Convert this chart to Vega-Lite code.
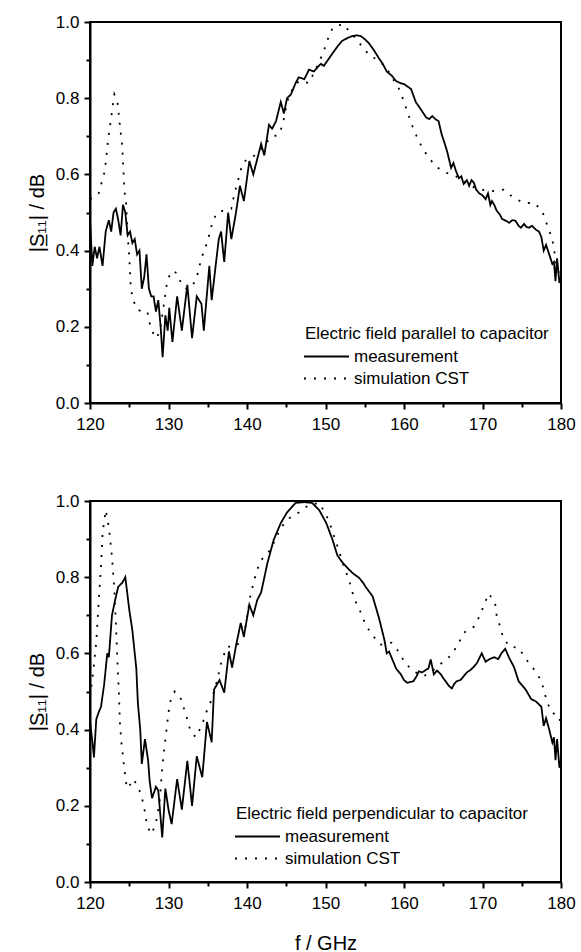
{
  "$schema": "https://vega.github.io/schema/vega-lite/v6.json",
  "padding": {"left": 26, "top": 12, "right": 0, "bottom": 0},
  "config": {
    "font": "Liberation Sans",
    "view": {"stroke": "black", "strokeWidth": 2},
    "axis": {"domainColor": "black", "domainWidth": 2, "tickColor": "black", "tickWidth": 2, "labelColor": "black", "labelFontSize": 17, "labelFont": "Liberation Sans", "titleFont": "Liberation Sans", "titleFontSize": 20, "titleFontWeight": "normal", "titleColor": "black", "grid": false},
    "legend": {"titleFont": "Liberation Sans", "titleFontSize": 17, "titleFontWeight": "normal", "titleColor": "black", "titleLimit": 500, "labelLimit": 300, "labelFont": "Liberation Sans", "labelFontSize": 17, "labelColor": "black", "symbolType": "M-3,0H3", "symbolSize": 225, "symbolStrokeColor": "black", "symbolStrokeWidth": 2, "rowPadding": 4, "titlePadding": 5, "labelOffset": 19, "symbolOffset": 13},
    "concat": {"spacing": 58}
  },
  "datasets": {
    "top": [
      {"f":120.0,"v":0.48,"s":"measurement"},{"f":120.3,"v":0.36,"s":"measurement"},{"f":120.6,"v":0.41,"s":"measurement"},{"f":120.9,"v":0.38,"s":"measurement"},{"f":121.2,"v":0.41,"s":"measurement"},{"f":121.6,"v":0.36,"s":"measurement"},{"f":122.0,"v":0.45,"s":"measurement"},{"f":122.4,"v":0.48,"s":"measurement"},{"f":122.7,"v":0.45,"s":"measurement"},{"f":123.0,"v":0.50,"s":"measurement"},{"f":123.3,"v":0.51,"s":"measurement"},{"f":123.6,"v":0.48,"s":"measurement"},{"f":123.9,"v":0.44,"s":"measurement"},{"f":124.2,"v":0.52,"s":"measurement"},{"f":124.5,"v":0.50,"s":"measurement"},{"f":124.8,"v":0.44,"s":"measurement"},{"f":125.1,"v":0.45,"s":"measurement"},{"f":125.4,"v":0.42,"s":"measurement"},{"f":125.7,"v":0.43,"s":"measurement"},{"f":126.0,"v":0.39,"s":"measurement"},{"f":126.3,"v":0.40,"s":"measurement"},{"f":126.6,"v":0.30,"s":"measurement"},{"f":126.9,"v":0.33,"s":"measurement"},{"f":127.2,"v":0.39,"s":"measurement"},{"f":127.5,"v":0.30,"s":"measurement"},{"f":127.8,"v":0.28,"s":"measurement"},{"f":128.1,"v":0.28,"s":"measurement"},{"f":128.4,"v":0.24,"s":"measurement"},{"f":128.7,"v":0.27,"s":"measurement"},{"f":129.0,"v":0.20,"s":"measurement"},{"f":129.25,"v":0.12,"s":"measurement"},{"f":129.6,"v":0.23,"s":"measurement"},{"f":129.9,"v":0.19,"s":"measurement"},{"f":130.1,"v":0.25,"s":"measurement"},{"f":130.5,"v":0.16,"s":"measurement"},{"f":131.1,"v":0.28,"s":"measurement"},{"f":131.7,"v":0.19,"s":"measurement"},{"f":132.4,"v":0.31,"s":"measurement"},{"f":133.0,"v":0.17,"s":"measurement"},{"f":133.6,"v":0.28,"s":"measurement"},{"f":134.2,"v":0.26,"s":"measurement"},{"f":134.5,"v":0.19,"s":"measurement"},{"f":135.2,"v":0.36,"s":"measurement"},{"f":135.5,"v":0.27,"s":"measurement"},{"f":136.4,"v":0.43,"s":"measurement"},{"f":136.7,"v":0.45,"s":"measurement"},{"f":137.1,"v":0.37,"s":"measurement"},{"f":137.6,"v":0.50,"s":"measurement"},{"f":138.0,"v":0.43,"s":"measurement"},{"f":138.6,"v":0.50,"s":"measurement"},{"f":139.1,"v":0.57,"s":"measurement"},{"f":139.6,"v":0.53,"s":"measurement"},{"f":140.3,"v":0.635,"s":"measurement"},{"f":140.8,"v":0.60,"s":"measurement"},{"f":141.3,"v":0.64,"s":"measurement"},{"f":141.8,"v":0.68,"s":"measurement"},{"f":142.2,"v":0.65,"s":"measurement"},{"f":142.8,"v":0.73,"s":"measurement"},{"f":143.2,"v":0.72,"s":"measurement"},{"f":143.7,"v":0.74,"s":"measurement"},{"f":144.3,"v":0.79,"s":"measurement"},{"f":144.7,"v":0.76,"s":"measurement"},{"f":145.1,"v":0.80,"s":"measurement"},{"f":145.6,"v":0.81,"s":"measurement"},{"f":146.2,"v":0.84,"s":"measurement"},{"f":146.6,"v":0.855,"s":"measurement"},{"f":147.3,"v":0.85,"s":"measurement"},{"f":147.9,"v":0.875,"s":"measurement"},{"f":148.5,"v":0.87,"s":"measurement"},{"f":149.4,"v":0.89,"s":"measurement"},{"f":149.8,"v":0.885,"s":"measurement"},{"f":150.3,"v":0.90,"s":"measurement"},{"f":150.8,"v":0.915,"s":"measurement"},{"f":151.5,"v":0.935,"s":"measurement"},{"f":152.1,"v":0.95,"s":"measurement"},{"f":152.8,"v":0.958,"s":"measurement"},{"f":153.4,"v":0.963,"s":"measurement"},{"f":154.0,"v":0.965,"s":"measurement"},{"f":154.5,"v":0.963,"s":"measurement"},{"f":155.0,"v":0.955,"s":"measurement"},{"f":155.5,"v":0.945,"s":"measurement"},{"f":156.2,"v":0.925,"s":"measurement"},{"f":156.8,"v":0.905,"s":"measurement"},{"f":157.3,"v":0.89,"s":"measurement"},{"f":157.8,"v":0.87,"s":"measurement"},{"f":158.4,"v":0.86,"s":"measurement"},{"f":159.0,"v":0.845,"s":"measurement"},{"f":159.5,"v":0.84,"s":"measurement"},{"f":160.0,"v":0.837,"s":"measurement"},{"f":160.5,"v":0.83,"s":"measurement"},{"f":160.9,"v":0.824,"s":"measurement"},{"f":161.5,"v":0.79,"s":"measurement"},{"f":162.0,"v":0.775,"s":"measurement"},{"f":162.3,"v":0.766,"s":"measurement"},{"f":162.8,"v":0.75,"s":"measurement"},{"f":163.2,"v":0.745,"s":"measurement"},{"f":163.6,"v":0.753,"s":"measurement"},{"f":164.0,"v":0.745,"s":"measurement"},{"f":164.4,"v":0.74,"s":"measurement"},{"f":164.8,"v":0.705,"s":"measurement"},{"f":165.2,"v":0.68,"s":"measurement"},{"f":165.5,"v":0.66,"s":"measurement"},{"f":166.0,"v":0.617,"s":"measurement"},{"f":166.3,"v":0.63,"s":"measurement"},{"f":166.6,"v":0.61,"s":"measurement"},{"f":167.0,"v":0.59,"s":"measurement"},{"f":167.3,"v":0.595,"s":"measurement"},{"f":167.6,"v":0.575,"s":"measurement"},{"f":168.0,"v":0.585,"s":"measurement"},{"f":168.3,"v":0.57,"s":"measurement"},{"f":168.6,"v":0.585,"s":"measurement"},{"f":168.9,"v":0.578,"s":"measurement"},{"f":169.2,"v":0.56,"s":"measurement"},{"f":169.6,"v":0.55,"s":"measurement"},{"f":170.0,"v":0.545,"s":"measurement"},{"f":170.4,"v":0.535,"s":"measurement"},{"f":170.7,"v":0.55,"s":"measurement"},{"f":171.0,"v":0.52,"s":"measurement"},{"f":171.2,"v":0.53,"s":"measurement"},{"f":171.5,"v":0.52,"s":"measurement"},{"f":171.8,"v":0.505,"s":"measurement"},{"f":172.2,"v":0.495,"s":"measurement"},{"f":172.5,"v":0.483,"s":"measurement"},{"f":173.0,"v":0.478,"s":"measurement"},{"f":173.4,"v":0.473,"s":"measurement"},{"f":173.8,"v":0.48,"s":"measurement"},{"f":174.2,"v":0.478,"s":"measurement"},{"f":174.6,"v":0.465,"s":"measurement"},{"f":174.9,"v":0.46,"s":"measurement"},{"f":175.3,"v":0.47,"s":"measurement"},{"f":175.6,"v":0.462,"s":"measurement"},{"f":175.9,"v":0.46,"s":"measurement"},{"f":176.3,"v":0.465,"s":"measurement"},{"f":176.8,"v":0.455,"s":"measurement"},{"f":177.2,"v":0.45,"s":"measurement"},{"f":177.5,"v":0.435,"s":"measurement"},{"f":177.8,"v":0.40,"s":"measurement"},{"f":178.1,"v":0.415,"s":"measurement"},{"f":178.5,"v":0.39,"s":"measurement"},{"f":178.9,"v":0.365,"s":"measurement"},{"f":179.1,"v":0.37,"s":"measurement"},{"f":179.3,"v":0.32,"s":"measurement"},{"f":179.5,"v":0.38,"s":"measurement"},{"f":179.8,"v":0.315,"s":"measurement"},{"f":180.0,"v":0.33,"s":"measurement"},
      {"f":120.0,"v":0.535,"s":"simulation CST"},{"f":120.5,"v":0.54,"s":"simulation CST"},{"f":121.1,"v":0.55,"s":"simulation CST"},{"f":121.5,"v":0.58,"s":"simulation CST"},{"f":121.9,"v":0.61,"s":"simulation CST"},{"f":122.3,"v":0.69,"s":"simulation CST"},{"f":122.7,"v":0.75,"s":"simulation CST"},{"f":123.1,"v":0.81,"s":"simulation CST"},{"f":123.5,"v":0.79,"s":"simulation CST"},{"f":123.8,"v":0.73,"s":"simulation CST"},{"f":124.1,"v":0.675,"s":"simulation CST"},{"f":124.4,"v":0.555,"s":"simulation CST"},{"f":124.6,"v":0.525,"s":"simulation CST"},{"f":124.8,"v":0.44,"s":"simulation CST"},{"f":125.0,"v":0.385,"s":"simulation CST"},{"f":125.2,"v":0.30,"s":"simulation CST"},{"f":125.5,"v":0.27,"s":"simulation CST"},{"f":126.0,"v":0.245,"s":"simulation CST"},{"f":126.7,"v":0.24,"s":"simulation CST"},{"f":127.3,"v":0.24,"s":"simulation CST"},{"f":127.6,"v":0.21,"s":"simulation CST"},{"f":128.0,"v":0.185,"s":"simulation CST"},{"f":128.5,"v":0.17,"s":"simulation CST"},{"f":128.9,"v":0.19,"s":"simulation CST"},{"f":129.2,"v":0.23,"s":"simulation CST"},{"f":129.6,"v":0.285,"s":"simulation CST"},{"f":129.8,"v":0.315,"s":"simulation CST"},{"f":130.3,"v":0.345,"s":"simulation CST"},{"f":130.7,"v":0.345,"s":"simulation CST"},{"f":131.1,"v":0.34,"s":"simulation CST"},{"f":131.7,"v":0.31,"s":"simulation CST"},{"f":132.3,"v":0.30,"s":"simulation CST"},{"f":133.0,"v":0.305,"s":"simulation CST"},{"f":133.6,"v":0.33,"s":"simulation CST"},{"f":134.2,"v":0.38,"s":"simulation CST"},{"f":134.9,"v":0.42,"s":"simulation CST"},{"f":135.3,"v":0.45,"s":"simulation CST"},{"f":135.6,"v":0.475,"s":"simulation CST"},{"f":136.2,"v":0.50,"s":"simulation CST"},{"f":137.0,"v":0.505,"s":"simulation CST"},{"f":138.0,"v":0.51,"s":"simulation CST"},{"f":138.3,"v":0.54,"s":"simulation CST"},{"f":138.6,"v":0.565,"s":"simulation CST"},{"f":139.0,"v":0.595,"s":"simulation CST"},{"f":139.4,"v":0.627,"s":"simulation CST"},{"f":140.0,"v":0.64,"s":"simulation CST"},{"f":141.0,"v":0.65,"s":"simulation CST"},{"f":142.0,"v":0.67,"s":"simulation CST"},{"f":143.0,"v":0.697,"s":"simulation CST"},{"f":144.1,"v":0.705,"s":"simulation CST"},{"f":144.6,"v":0.735,"s":"simulation CST"},{"f":145.1,"v":0.79,"s":"simulation CST"},{"f":145.7,"v":0.82,"s":"simulation CST"},{"f":146.6,"v":0.845,"s":"simulation CST"},{"f":147.9,"v":0.84,"s":"simulation CST"},{"f":148.6,"v":0.87,"s":"simulation CST"},{"f":149.3,"v":0.90,"s":"simulation CST"},{"f":149.8,"v":0.925,"s":"simulation CST"},{"f":150.3,"v":0.955,"s":"simulation CST"},{"f":150.9,"v":0.985,"s":"simulation CST"},{"f":152.2,"v":0.995,"s":"simulation CST"},{"f":153.4,"v":0.968,"s":"simulation CST"},{"f":154.5,"v":0.94,"s":"simulation CST"},{"f":155.7,"v":0.91,"s":"simulation CST"},{"f":156.8,"v":0.90,"s":"simulation CST"},{"f":157.8,"v":0.878,"s":"simulation CST"},{"f":158.6,"v":0.85,"s":"simulation CST"},{"f":159.5,"v":0.82,"s":"simulation CST"},{"f":160.0,"v":0.79,"s":"simulation CST"},{"f":160.5,"v":0.76,"s":"simulation CST"},{"f":161.0,"v":0.73,"s":"simulation CST"},{"f":161.5,"v":0.705,"s":"simulation CST"},{"f":162.2,"v":0.675,"s":"simulation CST"},{"f":163.0,"v":0.648,"s":"simulation CST"},{"f":164.1,"v":0.62,"s":"simulation CST"},{"f":165.3,"v":0.605,"s":"simulation CST"},{"f":166.6,"v":0.595,"s":"simulation CST"},{"f":167.9,"v":0.578,"s":"simulation CST"},{"f":169.0,"v":0.565,"s":"simulation CST"},{"f":170.3,"v":0.558,"s":"simulation CST"},{"f":171.5,"v":0.556,"s":"simulation CST"},{"f":172.7,"v":0.56,"s":"simulation CST"},{"f":174.0,"v":0.538,"s":"simulation CST"},{"f":175.3,"v":0.525,"s":"simulation CST"},{"f":176.6,"v":0.525,"s":"simulation CST"},{"f":177.6,"v":0.504,"s":"simulation CST"},{"f":178.1,"v":0.475,"s":"simulation CST"},{"f":178.6,"v":0.447,"s":"simulation CST"},{"f":179.0,"v":0.418,"s":"simulation CST"},{"f":179.4,"v":0.365,"s":"simulation CST"},{"f":180.0,"v":0.32,"s":"simulation CST"}
    ],
    "bot": [
      {"f":120.0,"v":0.42,"s":"measurement"},{"f":120.3,"v":0.37,"s":"measurement"},{"f":120.5,"v":0.327,"s":"measurement"},{"f":120.8,"v":0.427,"s":"measurement"},{"f":121.1,"v":0.445,"s":"measurement"},{"f":121.4,"v":0.46,"s":"measurement"},{"f":121.8,"v":0.518,"s":"measurement"},{"f":122.2,"v":0.60,"s":"measurement"},{"f":122.4,"v":0.59,"s":"measurement"},{"f":122.8,"v":0.70,"s":"measurement"},{"f":123.2,"v":0.74,"s":"measurement"},{"f":123.6,"v":0.775,"s":"measurement"},{"f":124.1,"v":0.785,"s":"measurement"},{"f":124.5,"v":0.80,"s":"measurement"},{"f":125.0,"v":0.715,"s":"measurement"},{"f":125.4,"v":0.66,"s":"measurement"},{"f":125.9,"v":0.56,"s":"measurement"},{"f":126.1,"v":0.47,"s":"measurement"},{"f":126.4,"v":0.40,"s":"measurement"},{"f":126.6,"v":0.31,"s":"measurement"},{"f":127.0,"v":0.375,"s":"measurement"},{"f":127.4,"v":0.32,"s":"measurement"},{"f":127.6,"v":0.265,"s":"measurement"},{"f":127.9,"v":0.22,"s":"measurement"},{"f":128.4,"v":0.25,"s":"measurement"},{"f":128.7,"v":0.24,"s":"measurement"},{"f":129.2,"v":0.117,"s":"measurement"},{"f":129.6,"v":0.245,"s":"measurement"},{"f":130.0,"v":0.19,"s":"measurement"},{"f":130.4,"v":0.152,"s":"measurement"},{"f":131.1,"v":0.27,"s":"measurement"},{"f":131.7,"v":0.19,"s":"measurement"},{"f":132.4,"v":0.318,"s":"measurement"},{"f":133.0,"v":0.20,"s":"measurement"},{"f":133.6,"v":0.33,"s":"measurement"},{"f":134.3,"v":0.275,"s":"measurement"},{"f":134.9,"v":0.42,"s":"measurement"},{"f":135.5,"v":0.367,"s":"measurement"},{"f":135.8,"v":0.505,"s":"measurement"},{"f":136.5,"v":0.53,"s":"measurement"},{"f":137.1,"v":0.497,"s":"measurement"},{"f":137.7,"v":0.605,"s":"measurement"},{"f":138.1,"v":0.563,"s":"measurement"},{"f":138.6,"v":0.62,"s":"measurement"},{"f":139.2,"v":0.68,"s":"measurement"},{"f":139.6,"v":0.644,"s":"measurement"},{"f":140.3,"v":0.728,"s":"measurement"},{"f":140.8,"v":0.70,"s":"measurement"},{"f":141.3,"v":0.74,"s":"measurement"},{"f":141.8,"v":0.76,"s":"measurement"},{"f":142.6,"v":0.837,"s":"measurement"},{"f":143.4,"v":0.898,"s":"measurement"},{"f":144.3,"v":0.942,"s":"measurement"},{"f":145.1,"v":0.97,"s":"measurement"},{"f":146.2,"v":0.995,"s":"measurement"},{"f":147.3,"v":0.997,"s":"measurement"},{"f":148.3,"v":0.995,"s":"measurement"},{"f":149.2,"v":0.976,"s":"measurement"},{"f":150.1,"v":0.942,"s":"measurement"},{"f":150.9,"v":0.898,"s":"measurement"},{"f":151.5,"v":0.858,"s":"measurement"},{"f":152.1,"v":0.84,"s":"measurement"},{"f":153.0,"v":0.82,"s":"measurement"},{"f":153.5,"v":0.81,"s":"measurement"},{"f":154.3,"v":0.798,"s":"measurement"},{"f":154.8,"v":0.785,"s":"measurement"},{"f":155.2,"v":0.772,"s":"measurement"},{"f":156.0,"v":0.75,"s":"measurement"},{"f":156.8,"v":0.694,"s":"measurement"},{"f":157.5,"v":0.636,"s":"measurement"},{"f":157.8,"v":0.60,"s":"measurement"},{"f":158.1,"v":0.605,"s":"measurement"},{"f":158.5,"v":0.585,"s":"measurement"},{"f":159.0,"v":0.56,"s":"measurement"},{"f":159.6,"v":0.545,"s":"measurement"},{"f":160.0,"v":0.53,"s":"measurement"},{"f":160.4,"v":0.523,"s":"measurement"},{"f":160.8,"v":0.525,"s":"measurement"},{"f":161.2,"v":0.527,"s":"measurement"},{"f":161.6,"v":0.54,"s":"measurement"},{"f":161.9,"v":0.553,"s":"measurement"},{"f":162.3,"v":0.55,"s":"measurement"},{"f":162.8,"v":0.557,"s":"measurement"},{"f":163.1,"v":0.56,"s":"measurement"},{"f":163.4,"v":0.584,"s":"measurement"},{"f":163.8,"v":0.545,"s":"measurement"},{"f":164.2,"v":0.555,"s":"measurement"},{"f":164.7,"v":0.545,"s":"measurement"},{"f":165.0,"v":0.535,"s":"measurement"},{"f":165.3,"v":0.527,"s":"measurement"},{"f":165.7,"v":0.515,"s":"measurement"},{"f":166.1,"v":0.508,"s":"measurement"},{"f":166.4,"v":0.52,"s":"measurement"},{"f":166.7,"v":0.527,"s":"measurement"},{"f":167.2,"v":0.53,"s":"measurement"},{"f":167.6,"v":0.54,"s":"measurement"},{"f":168.0,"v":0.55,"s":"measurement"},{"f":168.5,"v":0.557,"s":"measurement"},{"f":168.9,"v":0.565,"s":"measurement"},{"f":169.3,"v":0.575,"s":"measurement"},{"f":169.9,"v":0.60,"s":"measurement"},{"f":170.4,"v":0.578,"s":"measurement"},{"f":170.9,"v":0.585,"s":"measurement"},{"f":171.5,"v":0.59,"s":"measurement"},{"f":172.0,"v":0.585,"s":"measurement"},{"f":172.4,"v":0.60,"s":"measurement"},{"f":172.9,"v":0.612,"s":"measurement"},{"f":173.4,"v":0.588,"s":"measurement"},{"f":174.0,"v":0.565,"s":"measurement"},{"f":174.6,"v":0.527,"s":"measurement"},{"f":175.1,"v":0.515,"s":"measurement"},{"f":175.5,"v":0.505,"s":"measurement"},{"f":176.2,"v":0.48,"s":"measurement"},{"f":176.8,"v":0.474,"s":"measurement"},{"f":177.5,"v":0.46,"s":"measurement"},{"f":177.8,"v":0.41,"s":"measurement"},{"f":178.1,"v":0.43,"s":"measurement"},{"f":178.5,"v":0.40,"s":"measurement"},{"f":178.9,"v":0.366,"s":"measurement"},{"f":179.1,"v":0.38,"s":"measurement"},{"f":179.3,"v":0.32,"s":"measurement"},{"f":179.5,"v":0.375,"s":"measurement"},{"f":179.8,"v":0.30,"s":"measurement"},{"f":180.0,"v":0.32,"s":"measurement"},
      {"f":120.0,"v":0.487,"s":"simulation CST"},{"f":120.4,"v":0.55,"s":"simulation CST"},{"f":120.8,"v":0.63,"s":"simulation CST"},{"f":121.1,"v":0.733,"s":"simulation CST"},{"f":121.4,"v":0.827,"s":"simulation CST"},{"f":121.6,"v":0.916,"s":"simulation CST"},{"f":122.0,"v":0.976,"s":"simulation CST"},{"f":122.4,"v":0.932,"s":"simulation CST"},{"f":122.8,"v":0.853,"s":"simulation CST"},{"f":123.1,"v":0.767,"s":"simulation CST"},{"f":123.3,"v":0.68,"s":"simulation CST"},{"f":123.5,"v":0.576,"s":"simulation CST"},{"f":123.7,"v":0.487,"s":"simulation CST"},{"f":123.8,"v":0.42,"s":"simulation CST"},{"f":124.0,"v":0.367,"s":"simulation CST"},{"f":124.2,"v":0.33,"s":"simulation CST"},{"f":124.5,"v":0.275,"s":"simulation CST"},{"f":124.7,"v":0.246,"s":"simulation CST"},{"f":125.1,"v":0.255,"s":"simulation CST"},{"f":125.5,"v":0.27,"s":"simulation CST"},{"f":126.0,"v":0.255,"s":"simulation CST"},{"f":126.5,"v":0.23,"s":"simulation CST"},{"f":126.9,"v":0.196,"s":"simulation CST"},{"f":127.3,"v":0.144,"s":"simulation CST"},{"f":127.9,"v":0.126,"s":"simulation CST"},{"f":128.5,"v":0.165,"s":"simulation CST"},{"f":128.9,"v":0.217,"s":"simulation CST"},{"f":129.2,"v":0.30,"s":"simulation CST"},{"f":129.6,"v":0.374,"s":"simulation CST"},{"f":130.0,"v":0.445,"s":"simulation CST"},{"f":130.3,"v":0.48,"s":"simulation CST"},{"f":130.8,"v":0.50,"s":"simulation CST"},{"f":131.6,"v":0.48,"s":"simulation CST"},{"f":132.0,"v":0.453,"s":"simulation CST"},{"f":132.4,"v":0.427,"s":"simulation CST"},{"f":132.8,"v":0.395,"s":"simulation CST"},{"f":133.5,"v":0.38,"s":"simulation CST"},{"f":134.3,"v":0.414,"s":"simulation CST"},{"f":134.8,"v":0.445,"s":"simulation CST"},{"f":135.4,"v":0.474,"s":"simulation CST"},{"f":135.8,"v":0.50,"s":"simulation CST"},{"f":136.2,"v":0.53,"s":"simulation CST"},{"f":136.8,"v":0.584,"s":"simulation CST"},{"f":137.5,"v":0.618,"s":"simulation CST"},{"f":138.6,"v":0.618,"s":"simulation CST"},{"f":139.6,"v":0.644,"s":"simulation CST"},{"f":140.5,"v":0.76,"s":"simulation CST"},{"f":140.9,"v":0.788,"s":"simulation CST"},{"f":141.2,"v":0.815,"s":"simulation CST"},{"f":141.8,"v":0.845,"s":"simulation CST"},{"f":143.0,"v":0.872,"s":"simulation CST"},{"f":144.3,"v":0.93,"s":"simulation CST"},{"f":145.4,"v":0.955,"s":"simulation CST"},{"f":146.6,"v":0.97,"s":"simulation CST"},{"f":147.9,"v":0.99,"s":"simulation CST"},{"f":149.2,"v":0.995,"s":"simulation CST"},{"f":150.1,"v":0.963,"s":"simulation CST"},{"f":150.6,"v":0.937,"s":"simulation CST"},{"f":151.1,"v":0.906,"s":"simulation CST"},{"f":151.6,"v":0.877,"s":"simulation CST"},{"f":152.3,"v":0.83,"s":"simulation CST"},{"f":153.0,"v":0.793,"s":"simulation CST"},{"f":153.4,"v":0.762,"s":"simulation CST"},{"f":153.9,"v":0.733,"s":"simulation CST"},{"f":154.5,"v":0.707,"s":"simulation CST"},{"f":155.1,"v":0.675,"s":"simulation CST"},{"f":156.0,"v":0.647,"s":"simulation CST"},{"f":157.0,"v":0.623,"s":"simulation CST"},{"f":158.4,"v":0.628,"s":"simulation CST"},{"f":159.5,"v":0.60,"s":"simulation CST"},{"f":160.1,"v":0.575,"s":"simulation CST"},{"f":161.3,"v":0.552,"s":"simulation CST"},{"f":162.5,"v":0.54,"s":"simulation CST"},{"f":163.8,"v":0.557,"s":"simulation CST"},{"f":165.0,"v":0.578,"s":"simulation CST"},{"f":166.1,"v":0.597,"s":"simulation CST"},{"f":166.9,"v":0.625,"s":"simulation CST"},{"f":167.6,"v":0.654,"s":"simulation CST"},{"f":168.9,"v":0.67,"s":"simulation CST"},{"f":169.7,"v":0.70,"s":"simulation CST"},{"f":170.2,"v":0.728,"s":"simulation CST"},{"f":170.8,"v":0.757,"s":"simulation CST"},{"f":171.6,"v":0.733,"s":"simulation CST"},{"f":171.8,"v":0.70,"s":"simulation CST"},{"f":172.2,"v":0.673,"s":"simulation CST"},{"f":172.6,"v":0.644,"s":"simulation CST"},{"f":173.4,"v":0.618,"s":"simulation CST"},{"f":174.6,"v":0.615,"s":"simulation CST"},{"f":175.5,"v":0.586,"s":"simulation CST"},{"f":176.6,"v":0.557,"s":"simulation CST"},{"f":177.5,"v":0.528,"s":"simulation CST"},{"f":178.2,"v":0.474,"s":"simulation CST"},{"f":178.8,"v":0.445,"s":"simulation CST"},{"f":179.8,"v":0.435,"s":"simulation CST"},{"f":180.0,"v":0.40,"s":"simulation CST"}
    ]
  },
  "vconcat": [
    {
      "width": 471, "height": 381,
      "data": {"name": "top"},
      "mark": {"type": "line", "color": "black", "strokeWidth": 1.8, "strokeCap": "butt", "clip": true},
      "encoding": {
        "x": {"field": "f", "type": "quantitative", "scale": {"domain": [120, 180], "nice": false},
          "axis": {"title": null, "values": [120,125,130,135,140,145,150,155,160,165,170,175,180], "labelExpr": "datum.value % 10 === 0 ? datum.label : ''", "tickSize": {"condition": {"test": "datum.value % 10 === 0", "value": 6}, "value": 4}, "labelPadding": 7, "labelFlush": false}},
        "y": {"field": "v", "type": "quantitative", "scale": {"domain": [0, 1], "nice": false},
          "axis": {"title": "|S̲₁₁| / dB", "titlePadding": 8, "values": [0,0.1,0.2,0.3,0.4,0.5,0.6,0.7,0.8,0.9,1.0], "format": ".1f", "labelExpr": "round(datum.value*10) % 2 === 0 ? datum.label : ''", "tickSize": {"condition": {"test": "round(datum.value*10) % 2 === 0", "value": 6}, "value": 4}, "labelPadding": 5}},
        "strokeDash": {"field": "s", "type": "nominal", "scale": {"domain": ["measurement", "simulation CST"], "range": [[1, 0], [2, 8]]},
          "legend": {"title": "Electric field parallel to capacitor", "orient": "none", "legendX": 215, "legendY": 304}}
      }
    },
    {
      "width": 471, "height": 381,
      "data": {"name": "bot"},
      "mark": {"type": "line", "color": "black", "strokeWidth": 1.8, "strokeCap": "butt", "clip": true},
      "encoding": {
        "x": {"field": "f", "type": "quantitative", "scale": {"domain": [120, 180], "nice": false},
          "axis": {"title": "f / GHz", "titlePadding": 22, "values": [120,125,130,135,140,145,150,155,160,165,170,175,180], "labelExpr": "datum.value % 10 === 0 ? datum.label : ''", "tickSize": {"condition": {"test": "datum.value % 10 === 0", "value": 6}, "value": 4}, "labelPadding": 7, "labelFlush": false}},
        "y": {"field": "v", "type": "quantitative", "scale": {"domain": [0, 1], "nice": false},
          "axis": {"title": "|S̲₁₁| / dB", "titlePadding": 8, "values": [0,0.1,0.2,0.3,0.4,0.5,0.6,0.7,0.8,0.9,1.0], "format": ".1f", "labelExpr": "round(datum.value*10) % 2 === 0 ? datum.label : ''", "tickSize": {"condition": {"test": "round(datum.value*10) % 2 === 0", "value": 6}, "value": 4}, "labelPadding": 5}},
        "strokeDash": {"field": "s", "type": "nominal", "scale": {"domain": ["measurement", "simulation CST"], "range": [[1, 0], [2, 8]]},
          "legend": {"title": "Electric field perpendicular to capacitor", "orient": "none", "legendX": 146, "legendY": 305}}
      }
    }
  ],
  "resolve": {"scale": {"strokeDash": "independent"}, "legend": {"strokeDash": "independent"}}
}
